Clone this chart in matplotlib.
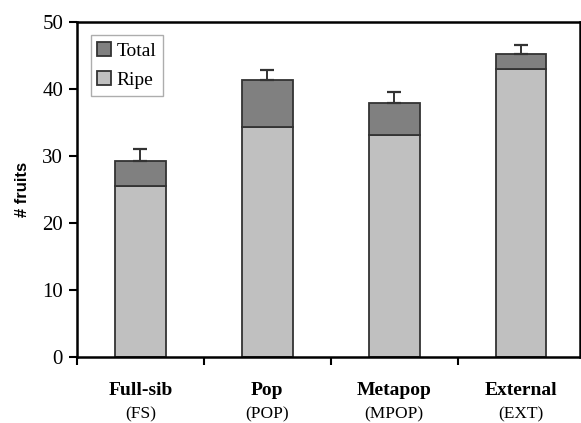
import matplotlib.pyplot as plt

groups = ["Full-sib", "Pop", "Metapop", "External"]
codes = ["(FS)", "(POP)", "(MPOP)", "(EXT)"]
ripe = [25.6, 34.4, 33.2, 43.0]
total = [29.3, 41.3, 37.9, 45.3]
total_err = [1.7, 1.5, 1.6, 1.2]

plt.rcParams['font.family'] = ['Liberation Serif', 'DejaVu Serif']

fig = plt.figure(figsize=(5.81, 4.23), dpi=100)
ax = fig.add_axes([77 / 581, 65.7 / 423, 503 / 581, 335.3 / 423])

x = list(range(len(groups)))
extra = [t - r for t, r in zip(total, ripe)]
w = 0.40
ax.bar(x, ripe, w, color='#c0c0c0', edgecolor='#333333', linewidth=1.3, label='Ripe', zorder=2)
ax.bar(x, extra, w, bottom=ripe, color='#808080', edgecolor='#333333', linewidth=1.3,
       label='Total', zorder=2)
ax.errorbar(x, total, yerr=[[0] * 4, total_err], fmt='none', ecolor='#333333',
            elinewidth=1.4, capsize=5, capthick=1.6, zorder=3)

ax.set_ylim(0, 50)
ax.set_xlim(-0.5, 3.465)
ax.set_yticks([0, 10, 20, 30, 40, 50])
ax.set_xticks([-0.5, 0.5, 1.5, 2.5])
ax.set_xticklabels([])
ax.tick_params(axis='y', direction='out', length=6, width=1.5, labelsize=15, pad=4)
ax.tick_params(axis='x', direction='out', length=6, width=1.5)
for s in ax.spines.values():
    s.set_linewidth(1.8)
ax.set_ylabel('# fruits', fontsize=12, fontweight='bold', labelpad=9,
              family=['Liberation Sans', 'DejaVu Sans'])

tr = ax.get_xaxis_transform()
for i in x:
    ax.text(i, -0.098, groups[i], transform=tr, ha='center', va='center',
            fontsize=14, fontweight='bold')
    ax.text(i, -0.17, codes[i], transform=tr, ha='center', va='center', fontsize=12.5)

h, l = ax.get_legend_handles_labels()
leg = ax.legend(h[::-1], l[::-1], loc='upper left', bbox_to_anchor=(0.027, 0.96),
                fontsize=14, frameon=True, fancybox=False, edgecolor='#999999',
                handlelength=0.7, handleheight=0.7, handletextpad=0.3,
                borderpad=0.35, labelspacing=0.6, borderaxespad=0)
leg.get_frame().set_linewidth(1.0)

fig.savefig('out.png', dpi=100)
